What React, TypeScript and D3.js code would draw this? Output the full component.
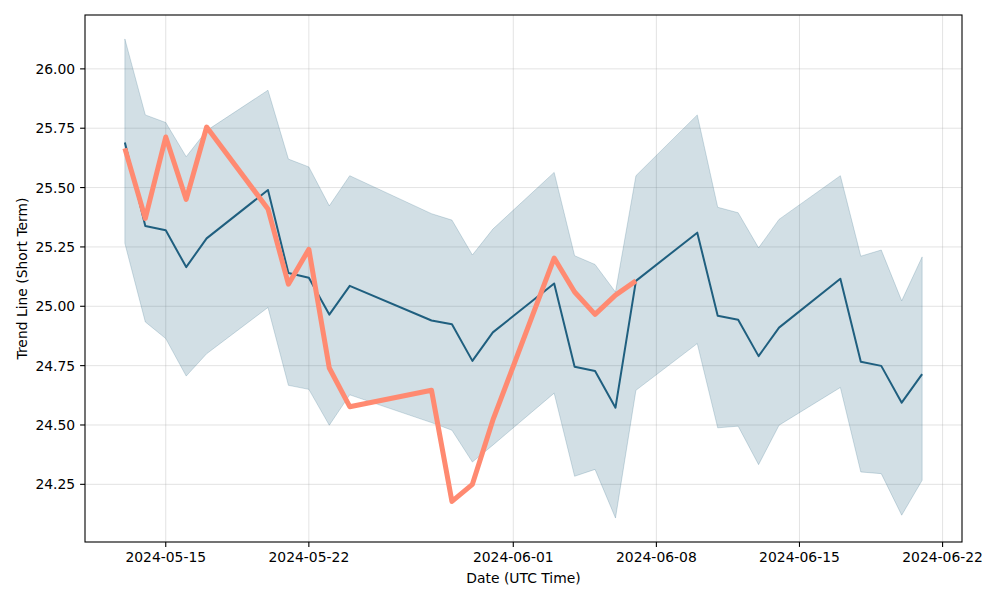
import React from "react";
import * as d3 from "d3";

const dates = [
  "2024-05-13", "2024-05-14", "2024-05-15", "2024-05-16", "2024-05-17",
  "2024-05-20", "2024-05-21", "2024-05-22", "2024-05-23", "2024-05-24",
  "2024-05-28", "2024-05-29", "2024-05-30", "2024-05-31",
  "2024-06-03", "2024-06-04", "2024-06-05", "2024-06-06", "2024-06-07",
  "2024-06-10", "2024-06-11", "2024-06-12", "2024-06-13", "2024-06-14",
  "2024-06-17", "2024-06-18", "2024-06-19", "2024-06-20", "2024-06-21",
];

const meanValues = [
  25.69, 25.338, 25.32, 25.165, 25.286,
  25.49, 25.14, 25.12, 24.965, 25.086,
  24.94, 24.924, 24.77, 24.89,
  25.096, 24.745, 24.727, 24.573, 25.107,
  25.31, 24.96, 24.943, 24.79, 24.91,
  25.116, 24.766, 24.749, 24.594, 24.714,
];

const upperValues = [
  26.126, 25.806, 25.774, 25.63, 25.74,
  25.91, 25.62, 25.587, 25.423, 25.55,
  25.39, 25.363, 25.216, 25.325,
  25.564, 25.213, 25.176, 25.06, 25.55,
  25.806, 25.417, 25.394, 25.246, 25.366,
  25.55, 25.211, 25.237, 25.023, 25.208,
];

const lowerValues = [
  25.265, 24.934, 24.864, 24.706, 24.8,
  24.995, 24.667, 24.65, 24.499, 24.627,
  24.51, 24.478, 24.344, 24.415,
  24.634, 24.284, 24.313, 24.108, 24.646,
  24.843, 24.488, 24.495, 24.333, 24.499,
  24.658, 24.302, 24.295, 24.12, 24.267,
];

const trendValues = [
  25.665, 25.37, 25.713, 25.45, 25.755,
  25.41, 25.093, 25.24, 24.74, 24.577,
  24.646, 24.178, 24.25, 24.52,
  25.203, 25.06, 24.966, 25.047, 25.107,
];

const xTickLabels = ["2024-05-15", "2024-05-22", "2024-06-01", "2024-06-08", "2024-06-15", "2024-06-22"];
const yTickValues = [24.25, 24.5, 24.75, 25.0, 25.25, 25.5, 25.75, 26.0];

const W = 1000;
const H = 600;
const M = { left: 85, right: 962, top: 15, bottom: 542 };
const FONT = "'DejaVu Sans', sans-serif";
const LINE = "#1f5f7f";
const TREND = "#ff8a71";

const parse = (s: string) => new Date(s + "T00:00:00Z");

export default function App() {
  const xs = dates.map(parse);
  const t0 = xs[0].getTime();
  const t1 = xs[xs.length - 1].getTime();
  const xPad = (t1 - t0) * 0.05;
  const x = d3.scaleUtc().domain([new Date(t0 - xPad), new Date(t1 + xPad)]).range([M.left, M.right]);

  const yMin = Math.min(d3.min(lowerValues)!, d3.min(trendValues)!);
  const yMax = Math.max(d3.max(upperValues)!, d3.max(trendValues)!);
  const yPad = (yMax - yMin) * 0.05;
  const y = d3.scaleLinear().domain([yMin - yPad, yMax + yPad]).range([M.bottom, M.top]);

  const bandData = xs.map((d, i) => ({ d, lo: lowerValues[i], hi: upperValues[i] }));
  const area = d3.area<any>().x((p) => x(p.d)).y0((p) => y(p.lo)).y1((p) => y(p.hi));
  const meanLine = d3.line<any>().x((p) => x(p.d)).y((p) => y(p.v));
  const meanData = xs.map((d, i) => ({ d, v: meanValues[i] }));
  const trendData = trendValues.map((v, i) => ({ d: xs[i], v }));

  const xTicks = xTickLabels.map(parse);
  const fs = 13.9;

  return (
    <svg width={W} height={H} style={{ position: "absolute", left: 0, top: 0, background: "#fff" }} fontFamily={FONT}>
      <rect x={0} y={0} width={W} height={H} fill="#fff" />
      {/* grid */}
      {xTicks.map((t, i) => (
        <line key={"gx" + i} x1={x(t)} x2={x(t)} y1={M.top} y2={M.bottom} stroke="#b0b0b0" strokeOpacity={0.35} strokeWidth={1} />
      ))}
      {yTickValues.map((v, i) => (
        <line key={"gy" + i} x1={M.left} x2={M.right} y1={y(v)} y2={y(v)} stroke="#b0b0b0" strokeOpacity={0.35} strokeWidth={1} />
      ))}
      {/* band */}
      <path d={area(bandData)!} fill={LINE} fillOpacity={0.2} stroke={LINE} strokeOpacity={0.2} strokeWidth={1} />
      {/* mean line */}
      <path d={meanLine(meanData)!} fill="none" stroke={LINE} strokeWidth={2} strokeLinejoin="round" />
      {/* trend line */}
      <path d={meanLine(trendData)!} fill="none" stroke={TREND} strokeWidth={5} strokeLinejoin="round" />
      {/* spines */}
      <rect x={M.left} y={M.top} width={M.right - M.left} height={M.bottom - M.top} fill="none" stroke="#000" strokeWidth={1.1} />
      {/* x ticks */}
      {xTicks.map((t, i) => (
        <g key={"xt" + i} transform={`translate(${x(t)},${M.bottom})`}>
          <line y1={0} y2={4.9} stroke="#000" strokeWidth={1.1} />
          <text y={9.8 + fs * 0.76} textAnchor="middle" fontSize={fs} fill="#000">{xTickLabels[i]}</text>
        </g>
      ))}
      {/* y ticks */}
      {yTickValues.map((v, i) => (
        <g key={"yt" + i} transform={`translate(${M.left},${y(v)})`}>
          <line x1={0} x2={-4.9} stroke="#000" strokeWidth={1.1} />
          <text x={-9.8} dy="0.36em" textAnchor="end" fontSize={fs} fill="#000">{v.toFixed(2)}</text>
        </g>
      ))}
      <text x={(M.left + M.right) / 2} y={583} textAnchor="middle" fontSize={fs} fill="#000">Date (UTC Time)</text>
      <text transform={`translate(27,${(M.top + M.bottom) / 2}) rotate(-90)`} textAnchor="middle" fontSize={fs} fill="#000">Trend Line (Short Term)</text>
    </svg>
  );
}
